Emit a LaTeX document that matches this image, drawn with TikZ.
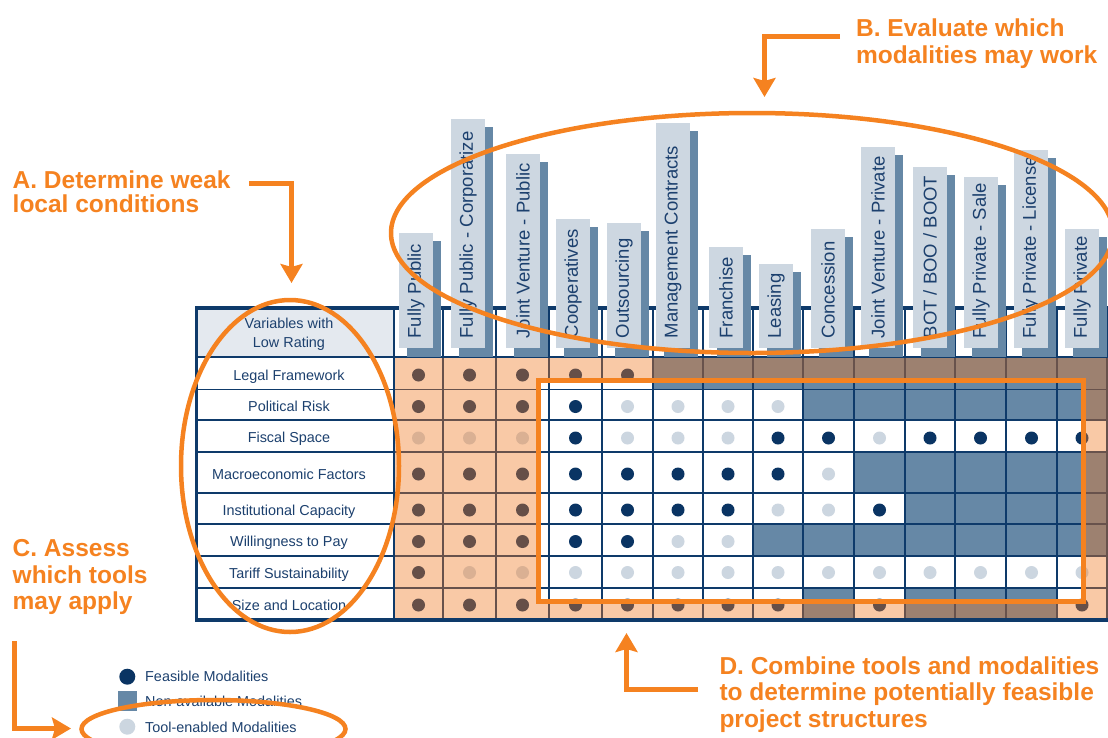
\documentclass[tikz,border=0pt]{standalone}
\usepackage{fontspec}
\setmainfont{Liberation Sans}
\usetikzlibrary{arrows.meta}
\definecolor{navydot}{RGB}{10,52,99}
\definecolor{gridnavy}{RGB}{14,58,106}
\definecolor{txtnavy}{RGB}{28,64,110}
\definecolor{nablue}{RGB}{102,136,166}
\definecolor{toolgray}{RGB}{204,214,224}
\definecolor{barlight}{RGB}{205,215,225}
\definecolor{hdrgray}{RGB}{228,233,239}
\definecolor{annot}{RGB}{245,130,32}
\definecolor{tintc}{RGB}{240,120,33}
\begin{document}
\begin{tikzpicture}[x=1pt,y=-1pt,
  gridline/.style={draw=gridnavy,line width=1.6pt},
  rowlabel/.style={anchor=base,inner sep=0pt,text=txtnavy,font=\fontsize{14.4}{17}\selectfont},
  bartext/.style={rotate=90,anchor=west,inner sep=0pt,text=txtnavy,font=\fontsize{18.5}{20}\selectfont},
  barfront/.style={fill=barlight},
  barshadow/.style={fill=nablue},
  annottext/.style={anchor=north west,inner sep=0pt,align=left,text=annot,font=\fontsize{24.5}{26.5}\selectfont\bfseries},
  annotline/.style={draw=annot,line width=5pt},
  annotarrow/.style={annotline,-{Stealth[length=19pt,width=22pt,inset=3pt]}},
  annotring/.style={draw=annot,line width=4.5pt},
  legendtext/.style={anchor=base west,inner sep=0pt,text=txtnavy,font=\fontsize{14.4}{17}\selectfont}]
\useasboundingbox (0,0) rectangle (1108,737);
\clip (0,0) rectangle (1108,737);

% table background
\fill[white] (196.5,308) rectangle (1110,620);
\fill[hdrgray] (196.5,308) rectangle (394,357);

% cells
\def\colx{{394,443,496,549,602,653,703,753,803,854,905,955,1006,1057,1107}}
\foreach \ya/\yb/\yd/\codes in {
 357/389.3/375/{F,F,F,F,F,N,N,N,N,N,N,N,N,N},
 389.3/420/406.5/{F,F,F,F,T,T,T,T,N,N,N,N,N,N},
 420/451.7/438/{T,T,T,F,T,T,T,F,F,T,F,F,F,F},
 451.7/492.7/474/{F,F,F,F,F,F,F,F,T,N,N,N,N,N},
 492.7/524/510/{F,F,F,F,F,F,F,T,T,F,N,N,N,N},
 524/555.7/541.5/{F,F,F,F,F,T,T,N,N,N,N,N,N,N},
 555.7/587.7/572.5/{F,T,T,T,T,T,T,T,T,T,T,T,T,T},
 587.7/620/605/{F,F,F,F,F,F,F,F,N,F,N,N,N,F}}{
  \foreach \s [count=\k] in \codes {
    \pgfmathsetmacro\xl{\colx[\k-1]}
    \pgfmathsetmacro\xr{\colx[\k]}
    \pgfmathsetmacro\xm{(\xl+\xr)/2}
    \if N\s \fill[nablue] (\xl,\ya) rectangle (\xr,\yb);\fi
    \if F\s \fill[navydot] (\xm,\yd) circle[radius=6.5pt];\fi
    \if T\s \fill[toolgray] (\xm,\yd) circle[radius=6.5pt];\fi
  }
}

% grid
\foreach \y in {389.3,420,451.7,492.7,524,555.7,587.7}
  \draw[gridline] (196.5,\y) -- (1110,\y);
\foreach \x in {443,496,549,602,653,703,753,803,854,905,955,1006,1057,1107}
  \draw[gridline] (\x,308) -- (\x,620);

% tint outside the combined region
\fill[tintc,opacity=0.4,even odd rule] (395,358) rectangle (1110,618.5) (538.3,380.7) rectangle (1083.3,601.7);

\draw[gridline,line width=2pt] (196.5,357) -- (1110,357);
\draw[gridline] (394,308) -- (394,620);
\draw[draw=gridnavy,line width=3.5pt] (196.5,308) rectangle (1110,620);

% row labels
\node[anchor=north,inner sep=0pt,align=center,text=txtnavy,font=\fontsize{14.4}{19.3}\selectfont] (hdr) at (289,317.3) {\rule{0pt}{11pt}Variables with\\Low Rating};
\node[rowlabel] (r1) at (289,380) {Legal Framework};
\node[rowlabel] (r2) at (289,411.7) {Political Risk};
\node[rowlabel] (r3) at (289,442.7) {Fiscal Space};
\node[rowlabel] (r4) at (289,479) {Macroeconomic Factors};
\node[rowlabel] (r5) at (289,515) {Institutional Capacity};
\node[rowlabel] (r6) at (289,546) {Willingness to Pay};
\node[rowlabel] (r7) at (289,578) {Tariff Sustainability};
\node[rowlabel] (r8) at (289,610) {Size and Location};

% modality bars
\foreach \k/\xl/\yt/\t in {
 1/399/233/{Fully Public},
 2/451/119/{Fully Public - Corporatize},
 3/506/154/{Joint Venture - Public},
 4/556/219/{Cooperatives},
 5/607/223/{Outsourcing},
 6/656/123/{Management Contracts},
 7/709/247/{Franchise},
 8/759/264/{Leasing},
 9/811/229/{Concession},
 10/861/147/{Joint Venture - Private},
 11/913/167/{BOT / BOO / BOOT},
 12/964/177/{Fully Private - Sale},
 13/1014/150/{Fully Private - License},
 14/1065/229/{Fully Private}}{
  \fill[barshadow] (\xl+8,\yt+8) rectangle (\xl+42,357);
  \fill[barfront] (\xl,\yt) rectangle (\xl+34,348);
  \node[bartext] (mod\k) at (\xl+17,338.5) {\t};
}

% legend
\fill[navydot] (127.3,676.7) circle[radius=8pt];
\fill[nablue] (118.3,691) rectangle (136.7,710.7);
\fill[toolgray] (127.3,726.7) circle[radius=8pt];
\node[legendtext] (l1) at (145,681.7) {Feasible Modalities};
\node[legendtext] (l2) at (145,706.7) {Non-available Modalities};
\node[legendtext] (l3) at (145,732.7) {Tool-enabled Modalities};

% annotations
\draw[annotline] (538.3,380.7) rectangle (1083.3,601.7);
\draw[annotring] (290,466) ellipse[x radius=109pt,y radius=166pt];
\draw[annotring] (752,233) ellipse[x radius=361pt,y radius=120pt];
\draw[annotring] (213.5,729) ellipse[x radius=132pt,y radius=29pt];

\coordinate (aS) at (249,183.5); \coordinate (aE) at (291.5,283);
\draw[annotarrow] (aS) -| (aE);
\coordinate (bS) at (840,36); \coordinate (bE) at (764.5,97);
\draw[annotarrow] (bS) -| (bE);
\coordinate (cS) at (14.5,641); \coordinate (cE) at (71,728.5);
\draw[annotarrow] (cS) |- (cE);
\coordinate (dS) at (698,689); \coordinate (dE) at (626.5,633);
\draw[annotarrow] (dS) -| (dE);

\node[annottext,font=\fontsize{24.5}{23.5}\selectfont\bfseries] (tA) at (12.5,168.3) {\rule{0pt}{20pt}A. Determine weak\\local conditions};
\node[annottext] (tB) at (856,16.7) {\rule{0pt}{20pt}B. Evaluate which\\modalities may work};
\node[annottext] (tC) at (12.5,536.7) {\rule{0pt}{20pt}C. Assess\\which tools\\may apply};
\node[annottext] (tD) at (719.3,654) {\rule{0pt}{20pt}D. Combine tools and modalities\\to determine potentially feasible\\project structures};
\end{tikzpicture}
\end{document}
